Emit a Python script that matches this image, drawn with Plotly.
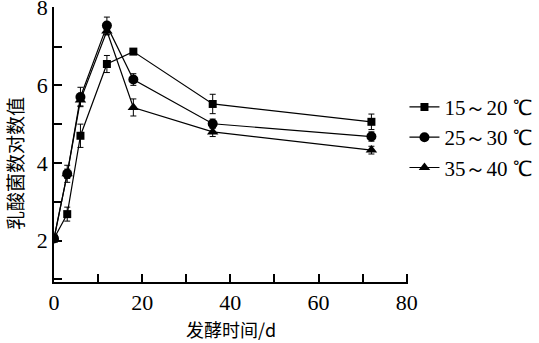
import plotly.graph_objects as go

days = [0, 3, 6, 12, 18, 36, 72]
names = ["15～20 ℃", "25～30 ℃", "35～40 ℃"]
s1 = [2.05, 2.68, 4.70, 6.55, 6.87, 5.52, 5.06]
s2 = [2.05, 3.72, 5.70, 7.54, 6.15, 5.01, 4.68]
s3 = [2.05, 3.72, 5.62, 7.40, 5.43, 4.80, 4.33]
e1 = [0.05, 0.18, 0.30, 0.22, 0.05, 0.25, 0.20]
e2 = [0.05, 0.22, 0.25, 0.22, 0.15, 0.12, 0.12]
e3 = [0.05, 0.12, 0.15, 0.10, 0.22, 0.12, 0.10]
x_ticks = [0, 10, 20, 30, 40, 50, 60, 70, 80]
x_labels = ["0", "", "20", "", "40", "", "60", "", "80"]
y_ticks = [1, 2, 3, 4, 5, 6, 7, 8]
y_labels = ["", "2", "", "4", "", "6", "", "8"]
symbols = ["square", "circle", "triangle-up"]
sizes = [8, 10, 10]

fig = go.Figure()
for n, y, e, sym, sz in zip(names, [s1, s2, s3], [e1, e2, e3], symbols, sizes):
    fig.add_trace(go.Scatter(
        x=days, y=y, name=n, mode="lines+markers",
        line=dict(color="black", width=1.2),
        marker=dict(symbol=sym, size=sz, color="black"),
        error_y=dict(type="data", array=e, color="black", thickness=1, width=3),
    ))

serif = "Liberation Serif"
cjk = "Noto Sans CJK SC"
fig.update_layout(
    width=539, height=343,
    margin=dict(l=54, r=131, t=7, b=61, autoexpand=False),
    plot_bgcolor="white", paper_bgcolor="white",
    font=dict(family=serif, size=22, color="black"),
    legend=dict(x=0.99, y=0.71, xanchor="left", yanchor="top",
                bgcolor="rgba(0,0,0,0)", font=dict(size=21, family=serif, color="black"),
                itemwidth=30, tracegroupgap=0),
    showlegend=True,
    annotations=[
        dict(text="乳酸菌数对数值", textangle=-90, x=-0.112, y=0.43,
             xref="paper", yref="paper", xanchor="center", yanchor="middle",
             showarrow=False, font=dict(size=19, family=cjk, color="black")),
        dict(text="发酵时间/d", x=0.50, y=-0.172,
             xref="paper", yref="paper", xanchor="center", yanchor="middle",
             showarrow=False, font=dict(size=18, family=cjk, color="black")),
    ],
)
fig.update_xaxes(
    range=[0, 80.3], tickmode="array", tickvals=x_ticks, ticktext=x_labels,
    ticks="inside", ticklen=8, tickwidth=1.6, tickcolor="black",
    ticklabeloverflow="allow", automargin=False,
    showline=True, linecolor="black", linewidth=1.5, showgrid=False, zeroline=False,
    tickfont=dict(size=22, family=serif, color="black"),
)
fig.update_yaxes(
    range=[0.93, 8.02], tickmode="array", tickvals=y_ticks, ticktext=y_labels,
    ticks="inside", ticklen=8, tickwidth=1.6, tickcolor="black",
    ticklabeloverflow="allow", automargin=False,
    showline=True, linecolor="black", linewidth=1.5, showgrid=False, zeroline=False,
    tickfont=dict(size=22, family=serif, color="black"),
)
fig.write_html("out.html")
